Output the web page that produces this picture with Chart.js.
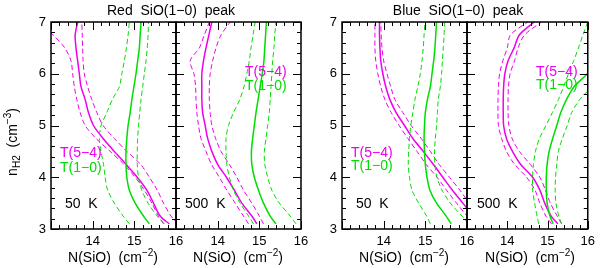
<!DOCTYPE html>
<html>
<head>
<meta charset="utf-8">
<script src="https://cdn.jsdelivr.net/npm/chart.js@4.4.0/dist/chart.umd.min.js"></script>
<style>
  html, body { margin: 0; padding: 0; background: #fff; }
  #wrap { position: relative; width: 600px; height: 268px; font-family: 'Liberation Sans', Arial, sans-serif; color: #000; }
  #wrap canvas { position: absolute; left: 0; top: 0; }
  .txt { position: absolute; white-space: pre; line-height: 1; font-size: 14px; }
  .mid { transform: translate(-50%, -50%); }
  .lft { transform: translateY(-50%); }
  .m { color: #ee00ee; }
  .g { color: #00dd00; }
  sup, sub { font-size: 10px; line-height: 0; }
  sup { vertical-align: 6px; }
  sub { vertical-align: -3px; }
  #ytitle { transform: translate(-50%, -50%) rotate(-90deg); }
</style>
</head>
<body>
<div id="wrap">
  <canvas id="p1" width="600" height="268"></canvas>
  <canvas id="p2" width="600" height="268"></canvas>
  <canvas id="p3" width="600" height="268"></canvas>
  <canvas id="p4" width="600" height="268"></canvas>

  <div class="txt mid" style="left:171px;top:10px">Red  SiO(1−0)  peak</div>
  <div class="txt mid" style="left:458px;top:10px">Blue  SiO(1−0)  peak</div>

  <div class="txt mid" style="left:113px;top:257px">N(SiO)  (cm<sup>−2</sup>)</div>
  <div class="txt mid" style="left:238px;top:257px">N(SiO)  (cm<sup>−2</sup>)</div>
  <div class="txt mid" style="left:404px;top:257px">N(SiO)  (cm<sup>−2</sup>)</div>
  <div class="txt mid" style="left:530px;top:257px">N(SiO)  (cm<sup>−2</sup>)</div>
  <div class="txt" id="ytitle" style="left:12px;top:142px">n<sub>H2</sub>  (cm<sup>−3</sup>)</div>

  <div class="txt lft m" style="left:60px;top:152px">T(5−4)</div>
  <div class="txt lft g" style="left:60px;top:167px">T(1−0)</div>
  <div class="txt lft" style="left:65px;top:203px">50  K</div>

  <div class="txt lft m" style="left:245px;top:71px">T(5−4)</div>
  <div class="txt lft g" style="left:245px;top:85px">T(1−0)</div>
  <div class="txt lft" style="left:185px;top:203px">500  K</div>

  <div class="txt lft m" style="left:351px;top:152px">T(5−4)</div>
  <div class="txt lft g" style="left:351px;top:165px">T(1−0)</div>
  <div class="txt lft" style="left:356px;top:203px">50  K</div>

  <div class="txt lft m" style="left:536px;top:71px">T(5−4)</div>
  <div class="txt lft g" style="left:536px;top:84px">T(1−0)</div>
  <div class="txt lft" style="left:477px;top:203px">500  K</div>
</div>

<script>
// log n(H2) grid, shared by every curve (bottom to top)
const nH2 = [3.1, 3.25, 3.5, 3.75, 4.0, 4.25, 4.5, 4.75, 5.0, 5.25, 5.5, 5.75, 6.0, 6.25, 6.5, 6.75, 7.0];

// Red SiO(1-0) peak, 50 K
const red50_t54 = [15.84, 15.62, 15.46, 15.30, 15.07, 14.80, 14.52, 14.25, 14.02, 13.90, 13.82, 13.72, 13.68, 13.64, 13.60, 13.58, 13.64];
const red50_t54lo = [15.70, 15.58, 15.42, 15.24, 15.02, 14.75, 14.42, 14.08, 13.82, 13.70, 13.62, 13.56, 13.52, 13.48, 13.33, 13.05, 12.70];
const red50_t54hi = [16.05, 15.88, 15.70, 15.55, 15.36, 15.15, 14.82, 14.52, 14.25, 14.10, 13.98, 13.88, 13.80, 13.77, 13.76, 13.75, 13.74];
const red50_t10 = [15.36, 15.22, 15.02, 14.88, 14.82, 14.80, 14.80, 14.82, 14.85, 14.90, 14.94, 14.99, 15.04, 15.08, 15.12, 15.14, 15.16];
const red50_t10lo = [14.88, 14.73, 14.52, 14.36, 14.30, 14.26, 14.20, 14.16, 14.20, 14.34, 14.47, 14.64, 14.70, 14.76, 14.81, 14.85, 14.88];
const red50_t10hi = [15.72, 15.55, 15.33, 15.18, 15.10, 15.07, 15.07, 15.08, 15.10, 15.13, 15.16, 15.20, 15.24, 15.28, 15.31, 15.33, 15.34];

// Red SiO(1-0) peak, 500 K
const red500_t54 = [14.94, 14.82, 14.58, 14.40, 14.21, 14.00, 13.86, 13.76, 13.70, 13.64, 13.62, 13.62, 13.62, 13.66, 13.72, 13.79, 13.86];
const red500_t54lo = [14.74, 14.62, 14.42, 14.22, 14.04, 13.85, 13.72, 13.60, 13.54, 13.50, 13.48, 13.47, 13.43, 13.34, 13.56, 13.68, 13.80];
const red500_t54hi = [15.10, 15.00, 14.82, 14.62, 14.46, 14.28, 14.08, 13.95, 13.86, 13.82, 13.80, 13.80, 13.82, 13.88, 13.96, 14.08, 14.30];
const red500_t10 = [15.40, 15.26, 15.10, 14.98, 14.88, 14.82, 14.81, 14.84, 14.88, 14.92, 14.97, 15.02, 15.07, 15.11, 15.13, 15.15, 15.17];
const red500_t10lo = [14.86, 14.74, 14.54, 14.38, 14.28, 14.22, 14.20, 14.20, 14.26, 14.38, 14.53, 14.63, 14.70, 14.76, 14.80, 14.85, 14.90];
const red500_t10hi = [15.88, 15.74, 15.48, 15.30, 15.20, 15.13, 15.12, 15.16, 15.20, 15.24, 15.26, 15.28, 15.30, 15.32, 15.35, 15.37, 15.40];

// Blue SiO(1-0) peak, 50 K
const blue50_t54 = [16.30, 16.15, 15.90, 15.65, 15.42, 15.19, 14.95, 14.70, 14.50, 14.30, 14.15, 14.05, 13.98, 13.93, 13.91, 13.90, 13.90];
const blue50_t54lo = [16.15, 16.00, 15.75, 15.51, 15.28, 15.02, 14.80, 14.58, 14.37, 14.18, 14.03, 13.93, 13.86, 13.81, 13.79, 13.79, 13.79];
const blue50_t54hi = [16.45, 16.30, 16.05, 15.83, 15.58, 15.33, 15.12, 14.90, 14.66, 14.46, 14.27, 14.17, 14.08, 14.00, 13.96, 13.94, 13.93];
const blue50_t10 = [15.62, 15.50, 15.27, 15.11, 15.04, 15.00, 14.98, 14.97, 14.98, 15.00, 15.05, 15.12, 15.16, 15.20, 15.23, 15.25, 15.27];
const blue50_t10lo = [15.12, 15.03, 14.84, 14.68, 14.62, 14.59, 14.60, 14.62, 14.65, 14.70, 14.75, 14.82, 14.88, 14.92, 14.95, 14.97, 14.99];
const blue50_t10hi = [16.04, 15.88, 15.60, 15.40, 15.28, 15.23, 15.22, 15.24, 15.27, 15.29, 15.31, 15.36, 15.39, 15.41, 15.43, 15.45, 15.46];

// Blue SiO(1-0) peak, 500 K
const blue500_t54 = [15.26, 15.09, 14.93, 14.81, 14.63, 14.33, 14.13, 13.98, 13.91, 13.90, 13.90, 13.91, 13.94, 14.02, 14.17, 14.30, 14.67];
const blue500_t54lo = [15.10, 14.96, 14.81, 14.69, 14.48, 14.18, 13.98, 13.86, 13.78, 13.77, 13.77, 13.78, 13.81, 13.89, 14.00, 14.08, 14.51];
const blue500_t54hi = [15.35, 15.24, 15.07, 14.95, 14.81, 14.57, 14.30, 14.12, 14.04, 14.02, 14.02, 14.03, 14.07, 14.18, 14.27, 14.43, 14.85];
const blue500_t10 = [15.14, 15.06, 14.99, 14.97, 14.97, 14.99, 15.04, 15.13, 15.23, 15.33, 15.47, 15.66, 15.99, 16.25, 16.50, 16.75, 17.00];
const blue500_t10lo = [14.78, 14.74, 14.68, 14.63, 14.63, 14.65, 14.70, 14.80, 14.96, 15.12, 15.27, 15.40, 15.52, 15.65, 15.77, 15.88, 16.00];
const blue500_t10hi = [15.35, 15.28, 15.21, 15.19, 15.20, 15.23, 15.27, 15.37, 15.49, 15.60, 15.80, 16.08, 16.20, 16.40, 16.60, 16.80, 17.00];

const xTicks = [14, 15, 16];
const yTicks = [3, 4, 5, 6, 7];

const MAGENTA = '#ee00ee';
const GREEN = '#00dd00';
const YAXIS_W = 40;

function curve(xs, color, dashed) {
  return {
    data: xs.map((v, i) => ({ x: v, y: nH2[i] })),
    borderColor: color,
    borderWidth: dashed ? 1 : 1.5,
    borderDash: dashed ? [5, 3] : [],
    showLine: true,
    pointRadius: 0,
    tension: 0.3,
    fill: false
  };
}

// inward ticks on all four sides plus the frame
const frameTicks = {
  id: 'frameTicks',
  afterDatasetsDraw(chart) {
    const { ctx, chartArea: a, scales: { x, y } } = chart;
    ctx.save();
    ctx.strokeStyle = '#000';
    ctx.lineWidth = 1;
    ctx.beginPath();
    for (let i = 0; i <= 15; i++) {
      const v = 13 + i * 0.2;
      const px = Math.round(x.getPixelForValue(v)) + 0.5;
      const len = i % 5 === 0 ? 8 : 4;
      ctx.moveTo(px, a.bottom); ctx.lineTo(px, a.bottom - len);
      ctx.moveTo(px, a.top); ctx.lineTo(px, a.top + len);
    }
    for (let i = 0; i <= 20; i++) {
      const v = 3 + i * 0.2;
      const py = Math.round(y.getPixelForValue(v)) + 0.5;
      const len = i % 5 === 0 ? 8 : 4;
      ctx.moveTo(a.left, py); ctx.lineTo(a.left + len, py);
      ctx.moveTo(a.right, py); ctx.lineTo(a.right - len, py);
    }
    ctx.stroke();
    ctx.lineWidth = 1.5;
    ctx.strokeRect(a.left, a.top, a.right - a.left, a.bottom - a.top);
    ctx.restore();
  }
};

function panel(id, left, showY, sets) {
  new Chart(document.getElementById(id), {
    type: 'scatter',
    data: {
      datasets: [
        curve(sets[3], GREEN, false),
        curve(sets[4], GREEN, true),
        curve(sets[5], GREEN, true),
        curve(sets[0], MAGENTA, false),
        curve(sets[1], MAGENTA, true),
        curve(sets[2], MAGENTA, true)
      ]
    },
    options: {
      responsive: false,
      animation: false,
      events: [],
      layout: { padding: { left: left - YAXIS_W, right: 600 - left - 125, top: 22, bottom: 0 } },
      plugins: { legend: { display: false }, tooltip: { enabled: false } },
      scales: {
        x: {
          type: 'linear',
          min: 13,
          max: 16,
          afterFit: (s) => { s.height = 39; },
          afterBuildTicks: (s) => { s.ticks = xTicks.map(v => ({ value: v })); },
          grid: { display: false, drawTicks: false },
          border: { display: false },
          ticks: { padding: 5, color: '#000', maxRotation: 0, autoSkip: false, font: { family: "'Liberation Sans', Arial, sans-serif", size: 13 } }
        },
        y: {
          type: 'linear',
          min: 3,
          max: 7,
          afterFit: (s) => { s.width = YAXIS_W; },
          afterBuildTicks: (s) => { s.ticks = yTicks.map(v => ({ value: v })); },
          grid: { display: false, drawTicks: false },
          border: { display: false },
          ticks: { display: showY, padding: 5, color: '#000', font: { family: "'Liberation Sans', Arial, sans-serif", size: 13 } }
        }
      }
    },
    plugins: [frameTicks]
  });
}

panel('p1', 51, true, [red50_t54, red50_t54lo, red50_t54hi, red50_t10, red50_t10lo, red50_t10hi]);
panel('p2', 176, false, [red500_t54, red500_t54lo, red500_t54hi, red500_t10, red500_t10lo, red500_t10hi]);
panel('p3', 342, true, [blue50_t54, blue50_t54lo, blue50_t54hi, blue50_t10, blue50_t10lo, blue50_t10hi]);
panel('p4', 467, false, [blue500_t54, blue500_t54lo, blue500_t54hi, blue500_t10, blue500_t10lo, blue500_t10hi]);
</script>
</body>
</html>
